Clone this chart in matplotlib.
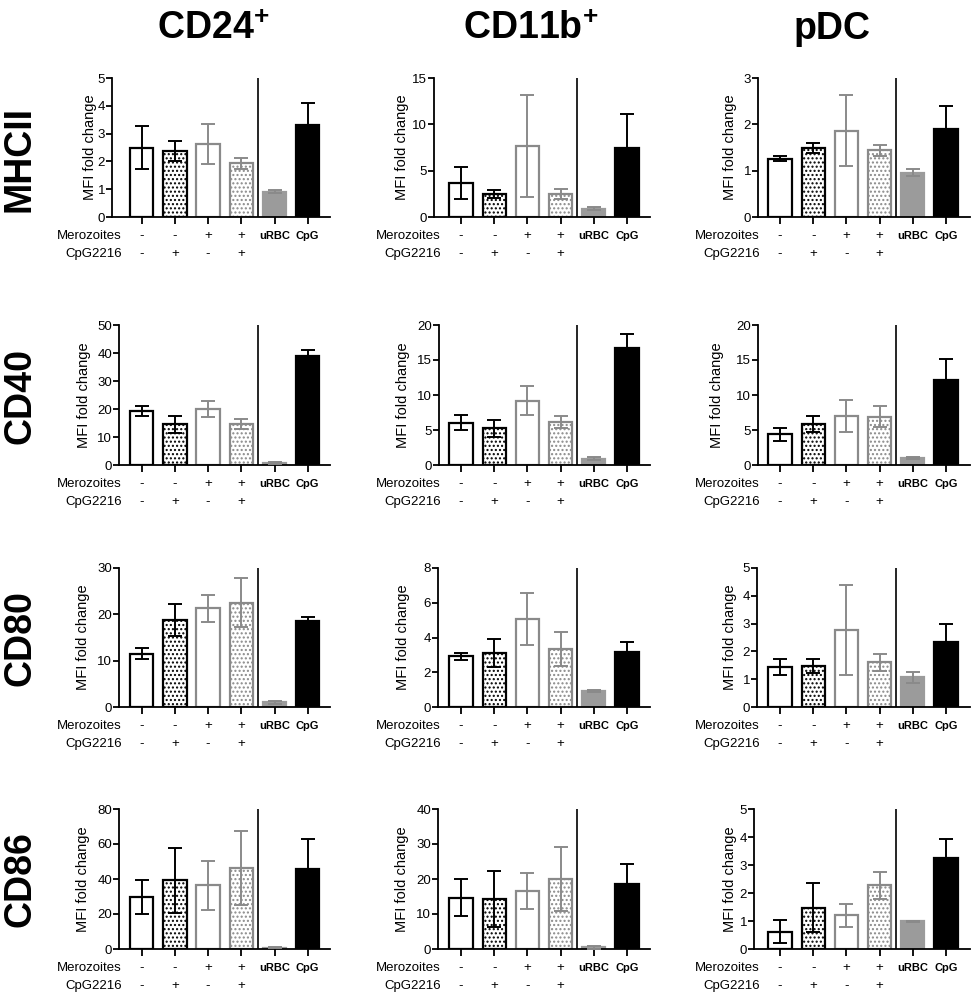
import matplotlib
matplotlib.use("Agg")
import matplotlib.pyplot as plt
import numpy as np

plt.rcParams['font.family'] = ['Liberation Sans', 'DejaVu Sans']
plt.rcParams['mathtext.fontset'] = 'custom'
plt.rcParams['mathtext.rm'] = 'Liberation Sans'
plt.rcParams['mathtext.bf'] = 'Liberation Sans:bold'
plt.rcParams['hatch.linewidth'] = 1.0

# cell types (columns) and markers (rows)
columns = ["CD24$^{\\mathbf{+}}$", "CD11b$^{\\mathbf{+}}$", "pDC"]
markers = ["MHCII", "CD40", "CD80", "CD86"]
merozoites = ["-", "-", "+", "+"]
cpg2216 = ["-", "+", "-", "+"]
controls = ["uRBC", "CpG"]

# bar order: -/-, -/+, +/-, +/+, uRBC, CpG ; one list per column
mhcii_mean = [[2.50, 2.36, 2.63, 1.93, 0.91, 3.31],
              [3.66, 2.49, 7.71, 2.52, 0.89, 7.43],
              [1.26, 1.49, 1.86, 1.44, 0.96, 1.90]]
mhcii_err = [[0.79, 0.36, 0.71, 0.21, 0.06, 0.78],
             [1.75, 0.46, 5.50, 0.55, 0.14, 3.70],
             [0.06, 0.10, 0.77, 0.12, 0.08, 0.50]]

cd40_mean = [[19.4, 14.6, 20.1, 14.8, 0.6, 38.8],
             [6.06, 5.25, 9.21, 6.11, 0.9, 16.66],
             [4.39, 5.87, 7.02, 6.92, 1.0, 12.12]]
cd40_err = [[1.8, 3.0, 2.8, 1.8, 0.35, 2.1],
            [1.05, 1.2, 2.1, 0.86, 0.18, 2.1],
            [0.9, 1.2, 2.3, 1.5, 0.15, 3.05]]

cd80_mean = [[11.5, 18.8, 21.3, 22.5, 1.0, 18.5],
             [2.92, 3.11, 5.06, 3.32, 0.92, 3.19],
             [1.43, 1.49, 2.77, 1.61, 1.07, 2.34]]
cd80_err = [[1.2, 3.4, 2.9, 5.3, 0.3, 1.0],
            [0.19, 0.80, 1.52, 0.97, 0.08, 0.55],
            [0.28, 0.25, 1.63, 0.30, 0.20, 0.66]]

cd86_mean = [[29.8, 39.2, 36.5, 46.4, 0.7, 46.0],
             [14.7, 14.4, 16.5, 20.0, 0.5, 18.7],
             [0.62, 1.48, 1.20, 2.27, 0.99, 3.25]]
cd86_err = [[9.7, 18.4, 14.0, 21.0, 0.2, 16.7],
            [5.2, 8.0, 5.1, 9.2, 0.4, 5.5],
            [0.40, 0.86, 0.42, 0.48, 0.02, 0.67]]

# y axis top and tick step per panel
ytop = [[5, 15, 3], [50, 20, 20], [30, 8, 5], [80, 40, 5]]
ystep = [[1, 5, 1], [10, 5, 5], [10, 2, 1], [20, 10, 1]]

means = [mhcii_mean, cd40_mean, cd80_mean, cd86_mean]
errs = [mhcii_err, cd40_err, cd80_err, cd86_err]

GRAY = '#8a8a8a'
face = ['white', 'white', 'white', 'white', '#9b9b9b', 'black']
edge = ['black', 'black', GRAY, GRAY, '#9b9b9b', 'black']
hatch = [None, '....', None, '....', None, None]
ecol = ['black', 'black', GRAY, GRAY, GRAY, 'black']

W, H = 971, 998
fig = plt.figure(figsize=(W / 100, H / 100), dpi=100)

# layout in pixels
axis_left = [[112, 434, 758], [119, 439, 758], [119, 438, 757], [119, 438, 754]]
ylabel_px = [[90, 402, 730], [84, 403, 717], [83, 403, 730], [83, 402, 730]]
col_right = [330, 650, 970]
first_bar = [141.7, 461, 780]
spacing = 33.2
row_top = [78, 325, 568, 809]
row_bot = [217, 465, 707, 949]
row_label_y = [159, 396, 638, 879]
col_title_x = [213, 531, 832]

x = np.arange(6)

for r in range(4):
    for c in range(3):
        left = axis_left[r][c]
        wpx = col_right[c] - left
        ax = fig.add_axes([left / W, 1 - row_bot[r] / H, wpx / W,
                           (row_bot[r] - row_top[r]) / H])
        m = means[r][c]
        e = errs[r][c]
        for i in range(6):
            ax.bar(x[i], m[i], width=0.7, color=face[i], edgecolor=edge[i],
                   hatch=hatch[i], linewidth=1.6, zorder=2)
            ax.errorbar(x[i], m[i], yerr=e[i], fmt='none', ecolor=ecol[i],
                        elinewidth=1.4, capsize=5, capthick=1.4, zorder=3)
        ax.axvline(3.5, color='black', linewidth=1.2, zorder=1)
        xmin = -(first_bar[c] - left) / spacing
        xmax = 5 + (col_right[c] - first_bar[c] - 5 * spacing) / spacing
        ax.set_xlim(xmin, xmax)
        ax.set_ylim(0, ytop[r][c])
        ax.set_yticks(np.arange(0, ytop[r][c] + 0.001, ystep[r][c]))
        ax.set_xticks(x)
        ax.set_xticklabels([''] * 6)
        ax.spines['top'].set_visible(False)
        ax.spines['right'].set_visible(False)
        ax.spines['left'].set_linewidth(1.3)
        ax.spines['bottom'].set_linewidth(1.3)
        ax.tick_params(axis='y', length=4, width=1.3, labelsize=9.5, pad=1)
        ax.tick_params(axis='x', length=5, width=1.3)
        ax.text((ylabel_px[r][c] - left) / wpx, 0.5, 'MFI fold change',
                transform=ax.transAxes, rotation=90, ha='center',
                va='center', fontsize=10.5)

        tr = ax.get_xaxis_transform()
        ax.text(-0.6, -0.136, 'Merozoites', transform=tr, ha='right',
                va='center', fontsize=9.5)
        ax.text(-0.6, -0.264, 'CpG2216', transform=tr, ha='right',
                va='center', fontsize=9.5)
        for i in range(4):
            ax.text(x[i], -0.136, merozoites[i], transform=tr, ha='center',
                    va='center', fontsize=9.5)
            ax.text(x[i], -0.264, cpg2216[i], transform=tr, ha='center',
                    va='center', fontsize=9.5)
        for i in range(2):
            ax.text(x[4 + i], -0.136, controls[i], transform=tr, ha='center',
                    va='center', fontsize=8, fontweight='bold')

for r in range(4):
    fig.text(20 / W, 1 - row_label_y[r] / H, markers[r], rotation=90,
             ha='center', va='center', fontsize=27, fontweight='bold')
for c in range(3):
    fig.text(col_title_x[c] / W, 1 - 29 / H, columns[c], ha='center',
             va='center', fontsize=27, fontweight='bold')

fig.savefig('out.png', dpi=100)
